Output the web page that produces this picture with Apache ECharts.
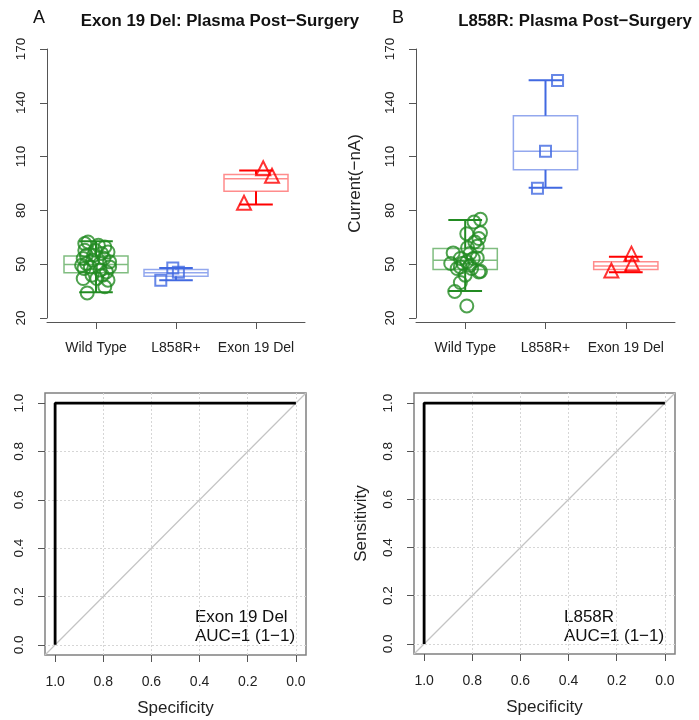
<!DOCTYPE html>
<html>
<head>
<meta charset="utf-8">
<script src="https://cdn.jsdelivr.net/npm/echarts@6/dist/echarts.min.js"></script>
<style>
html, body { margin: 0; padding: 0; background: #fff; }
#chart { width: 699px; height: 720px; }
</style>
</head>
<body>
<div id="chart"></div>
<script>
var groups = ['Wild Type', 'L858R+', 'Exon 19 Del'];
var groupTicks = [1, 2, 3];
var currentTicks = [20, 50, 80, 110, 140, 170];
var rocTicks = [0, 0.2, 0.4, 0.6, 0.8, 1.0];
var rocGuides = [0, 0.2, 0.4, 0.6, 0.8];

// box stats: [group, min, q1, median, q3, max]
var boxesA = [[1, 34.3, 45.2, 49.8, 54.6, 62.8], [2, 41.1, 43.3, 45.2, 47.0, 47.9], [3, 83.3, 90.7, 97.6, 100.0, 102.2]];
var boxesB = [[1, 35.0, 47.0, 52.2, 58.7, 74.6], [2, 92.6, 102.6, 113.0, 132.8, 152.6], [3, 45.5, 47.0, 49.0, 51.3, 54.2]];

// jittered points [x, current]
var wtA = [[0.89, 34.0], [0.90, 62.4], [1.03, 60.5], [0.86, 57.8], [1.15, 56.8], [0.84, 53.2], [0.96, 52.2], [1.10, 53.3], [1.17, 51.3],
  [0.85, 47.6], [0.93, 48.5], [1.05, 46.7], [1.13, 45.7], [0.84, 42.0], [1.01, 42.0], [1.15, 41.1], [1.11, 37.4], [1.05, 50.4],
  [0.88, 50.4], [0.99, 57.8], [1.07, 56.0], [0.86, 61.5], [1.11, 59.6], [0.82, 49.4], [0.95, 43.9], [1.08, 43.9], [1.17, 48.5],
  [0.88, 55.0], [0.97, 55.0]];
var wtB = [[1.02, 26.7], [0.87, 34.8], [0.94, 39.8], [1.19, 75.0], [1.11, 73.5], [1.02, 67.0], [1.19, 67.5], [1.17, 64.3], [1.15, 60.0],
  [1.03, 59.2], [0.85, 56.3], [0.82, 50.4], [0.94, 53.2], [1.10, 53.2], [0.94, 48.5], [1.08, 47.6], [1.17, 45.7], [1.00, 43.9],
  [0.90, 47.6], [1.06, 49.4], [1.12, 62.4], [1.06, 56.0], [1.02, 51.3], [1.15, 53.5], [0.97, 50.5], [1.19, 46.0]];
var sqA = [[1.81, 41.1], [1.96, 47.9], [2.03, 45.5]];
var triA = [[2.85, 83.0], [3.09, 102.2], [3.20, 98.0]];
var sqB = [[2.15, 152.4], [2.00, 113.0], [1.90, 92.4]];
var triB = [[2.82, 45.2], [3.07, 54.6], [3.08, 48.9]];

// ROC (specificity, sensitivity)
var rocCurve = [[1, 0], [1, 1], [0, 1]];
var chanceLine = [[1.042, -0.042], [-0.042, 1.042]];

var darkColors = ['#228B22', '#4169E1', '#FF0000'];
var lightColors = ['#80bd80', '#93a8ee', '#ff8c8c'];
var FONT = 'Liberation Sans, Arial, Helvetica, sans-serif';
var axisGray = '#555';

var chart = echarts.init(document.getElementById('chart'));

function renderBox(params, api) {
  var x = api.value(0), lo = api.value(1), q1 = api.value(2), md = api.value(3), q3 = api.value(4), hi = api.value(5);
  var g = Math.round(x) - 1;
  var tl = api.coord([x - 0.4, q3]), br = api.coord([x + 0.4, q1]);
  var mL = api.coord([x - 0.4, md]), mR = api.coord([x + 0.4, md]);
  var top = api.coord([x, hi]), bot = api.coord([x, lo]);
  var upQ = api.coord([x, q3]), loQ = api.coord([x, q1]);
  var capL = api.coord([x - 0.21, hi])[0], capR = api.coord([x + 0.21, hi])[0];
  var light = { stroke: lightColors[g], lineWidth: 1.5, fill: 'none' };
  var dark = { stroke: darkColors[g], lineWidth: 2 };
  return {
    type: 'group',
    children: [
      { type: 'rect', shape: { x: tl[0], y: tl[1], width: br[0] - tl[0], height: br[1] - tl[1] }, style: light },
      { type: 'line', shape: { x1: mL[0], y1: mL[1], x2: mR[0], y2: mR[1] }, style: light },
      { type: 'line', shape: { x1: top[0], y1: top[1], x2: upQ[0], y2: upQ[1] }, style: dark },
      { type: 'line', shape: { x1: bot[0], y1: bot[1], x2: loQ[0], y2: loQ[1] }, style: dark },
      { type: 'line', shape: { x1: capL, y1: top[1], x2: capR, y2: top[1] }, style: dark },
      { type: 'line', shape: { x1: capL, y1: bot[1], x2: capR, y2: bot[1] }, style: dark }
    ]
  };
}

function boxXAxis(grid) {
  return {
    gridIndex: grid, type: 'value', min: 0.3875, max: 3.6125, offset: 4,
    axisLine: { show: true, onZero: false, lineStyle: { color: axisGray, width: 1 } },
    axisTick: { show: true, customValues: groupTicks, length: 7, lineStyle: { color: axisGray } },
    axisLabel: { customValues: groupTicks, margin: 19, fontSize: 14, color: '#222', fontFamily: FONT,
      formatter: function (v) { return groups[Math.round(v) - 1]; } },
    splitLine: { show: false }
  };
}

function boxYAxis(grid, name) {
  return {
    gridIndex: grid, type: 'value', min: 20, max: 170,
    name: name || '', nameLocation: 'middle', nameGap: 52,
    nameTextStyle: { fontSize: 17, color: '#222', fontFamily: FONT },
    axisLine: { show: true, onZero: false, lineStyle: { color: axisGray, width: 1 } },
    axisTick: { show: true, customValues: currentTicks, length: 7, lineStyle: { color: axisGray } },
    axisLabel: { customValues: currentTicks, rotate: 90, margin: 19, fontSize: 13.5, color: '#222', fontFamily: FONT },
    splitLine: { show: false }
  };
}

function rocXAxis(grid) {
  return {
    gridIndex: grid, type: 'value', inverse: true, min: -0.042, max: 1.042,
    name: 'Specificity', nameLocation: 'middle', nameGap: 45,
    nameTextStyle: { fontSize: 17, color: '#222', fontFamily: FONT },
    axisLine: { show: false, onZero: false },
    axisTick: { show: true, customValues: rocTicks, length: 7, lineStyle: { color: axisGray } },
    axisLabel: { customValues: rocTicks, margin: 20, fontSize: 14, color: '#222', fontFamily: FONT,
      formatter: function (v) { return v.toFixed(1); } },
    splitLine: { show: false }
  };
}

function rocYAxis(grid, name) {
  return {
    gridIndex: grid, type: 'value', min: -0.042, max: 1.042,
    name: name || '', nameLocation: 'middle', nameGap: 44,
    nameTextStyle: { fontSize: 17, color: '#222', fontFamily: FONT },
    axisLine: { show: false, onZero: false },
    axisTick: { show: true, customValues: rocTicks, length: 7, lineStyle: { color: axisGray } },
    axisLabel: { customValues: rocTicks, rotate: 90, margin: 19, fontSize: 13.5, color: '#222', fontFamily: FONT,
      formatter: function (v) { return v.toFixed(1); } },
    splitLine: { show: false }
  };
}

function pointSeries(grid, data, g, symbol, size, offset) {
  return {
    type: 'scatter', xAxisIndex: grid, yAxisIndex: grid, data: data, z: 4,
    symbol: symbol, symbolSize: size, symbolOffset: offset || [0, 0], silent: true,
    itemStyle: { color: 'rgba(0,0,0,0)', borderColor: darkColors[g], borderWidth: 2 }
  };
}

function rocSeries(grid) {
  var guides = rocGuides.map(function (v) { return { xAxis: v }; })
    .concat(rocGuides.map(function (v) { return { yAxis: v }; }));
  return [
    {
      type: 'line', xAxisIndex: grid, yAxisIndex: grid, data: chanceLine, showSymbol: false, silent: true, z: 2,
      lineStyle: { color: '#c4c4c4', width: 1.2 },
      markLine: { silent: true, symbol: ['none', 'none'], label: { show: false }, animation: false,
        lineStyle: { color: '#d6d6d6', type: [2, 2], width: 1 }, data: guides }
    },
    {
      type: 'line', xAxisIndex: grid, yAxisIndex: grid, data: rocCurve, showSymbol: false, silent: true, z: 5,
      lineStyle: { color: '#000', width: 2.8 }
    }
  ];
}

function txt(x, y, s, size, weight, align) {
  return { type: 'text', x: x, y: y, silent: true,
    style: { text: s, font: (weight || 'normal') + ' ' + size + 'px ' + FONT, fill: '#111',
      textAlign: align || 'left', textVerticalAlign: 'middle' } };
}

var option = {
  animation: false,
  textStyle: { fontFamily: FONT },
  grid: [
    { left: 47, top: 49, width: 258, height: 269 },
    { left: 416, top: 49, width: 259, height: 269 },
    { left: 45, top: 393, width: 261, height: 262, show: true, borderColor: '#808080', borderWidth: 1.5 },
    { left: 414, top: 393, width: 261, height: 261, show: true, borderColor: '#808080', borderWidth: 1.5 }
  ],
  xAxis: [boxXAxis(0), boxXAxis(1), rocXAxis(2), rocXAxis(3)],
  yAxis: [boxYAxis(0), boxYAxis(1, 'Current(\u2212nA)'), rocYAxis(2), rocYAxis(3, 'Sensitivity')],
  series: [
    { type: 'custom', xAxisIndex: 0, yAxisIndex: 0, renderItem: renderBox, data: boxesA, encode: { x: 0, y: [1, 2, 3, 4, 5] }, z: 3, silent: true },
    { type: 'custom', xAxisIndex: 1, yAxisIndex: 1, renderItem: renderBox, data: boxesB, encode: { x: 0, y: [1, 2, 3, 4, 5] }, z: 3, silent: true },
    pointSeries(0, wtA, 0, 'circle', 13),
    pointSeries(0, sqA, 1, 'rect', 11),
    pointSeries(0, triA, 2, 'triangle', 14, [0, -2.3]),
    pointSeries(1, wtB, 0, 'circle', 13),
    pointSeries(1, sqB, 1, 'rect', 11),
    pointSeries(1, triB, 2, 'triangle', 14, [0, -2.3])
  ].concat(rocSeries(2), rocSeries(3)),
  graphic: [
    txt(33, 18, 'A', 18),
    txt(392, 18, 'B', 18),
    txt(220, 21, 'Exon 19 Del: Plasma Post\u2212Surgery', 16.8, 'bold', 'center'),
    txt(575, 21, 'L858R: Plasma Post\u2212Surgery', 16.8, 'bold', 'center'),
    txt(195, 617, 'Exon 19 Del', 17),
    txt(195, 636, 'AUC=1 (1\u22121)', 17),
    txt(564, 617, 'L858R', 17),
    txt(564, 636, 'AUC=1 (1\u22121)', 17)
  ]
};

chart.setOption(option);
</script>
</body>
</html>
